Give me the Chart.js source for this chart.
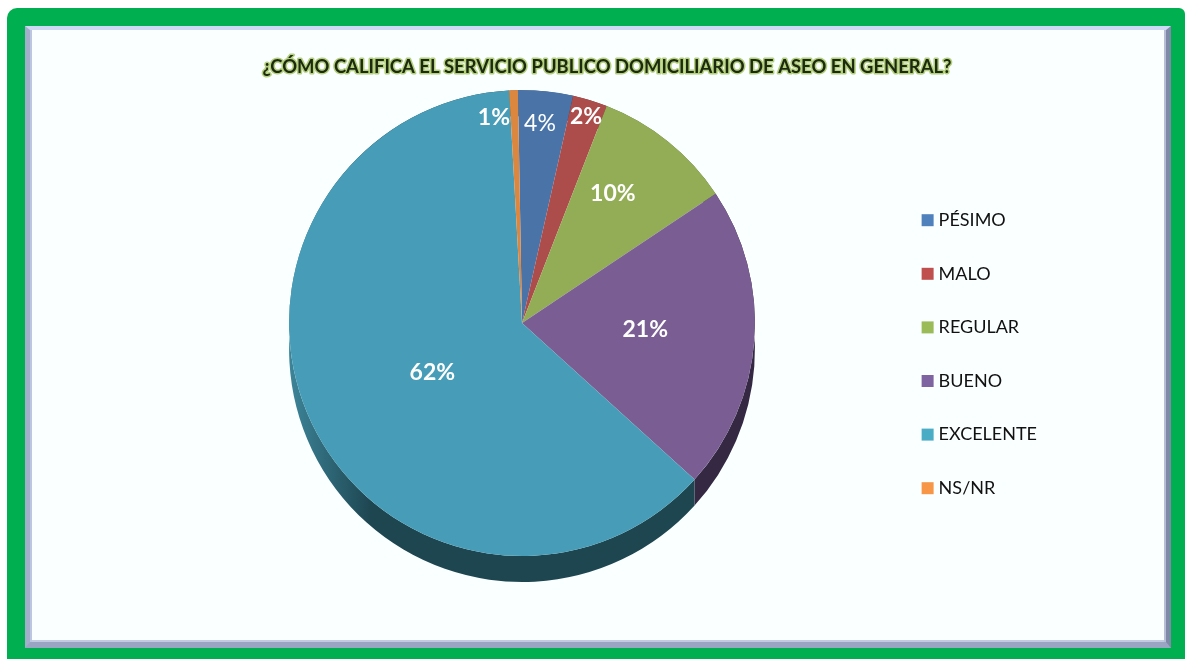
<!DOCTYPE html>
<html>
<head>
<meta charset="utf-8">
<script src="https://cdn.jsdelivr.net/npm/chart.js@4"></script>
<style>
html, body { margin: 0; padding: 0; background: #fff; overflow: hidden; }
#frame { position: absolute; left: 7px; top: 8px; width: 1178px; height: 651px; background: #00B050; border-radius: 10px 6px 0 0; }
#panel { position: absolute; left: 25px; top: 26px; width: 1136px; height: 612px; background: #FAFFFF;
    border-style: solid; border-width: 4px 5px 6px 5px; border-color: #CDD9F4 #7F8AA8 #9AA5C4 #A3AECB;
    box-shadow: inset -2px 0 #B7BFD6, inset 2px 0 #BCC6E0, inset 0 -2px #C3CBE2; }
#chartBox { position: absolute; left: 44px; top: 26px; width: 1126px; height: 620px; }
</style>
</head>
<body>
<div id="frame"></div>
<div id="panel"></div>
<div id="chartBox"><canvas id="myChart"></canvas></div>
<script>
var titleText = '¿CÓMO CALIFICA EL SERVICIO PUBLICO DOMICILIARIO DE ASEO EN GENERAL?';
var categories = ['PÉSIMO', 'MALO', 'REGULAR', 'BUENO', 'EXCELENTE', 'NS/NR'];
var values = [3.8, 2.4, 9.7, 21.1, 62.4, 0.6];
var sliceColors = ['#4A74A8', '#AC4D4B', '#93AD56', '#7A5E93', '#479DB7', '#DC8740'];
var legendColors = ['#4F81BD', '#C0504D', '#9BBB59', '#8064A2', '#4BACC6', '#F79646'];
var sideColors = ['#2B4463', '#652D2C', '#566633', '#342843', '#1E4651', '#82501F'];
var sideEdgeColor = '#3D8599';
// how far out each percent label sits (fraction of radius) and its turn away from the slice middle
var labelRadius = [0.86, 0.93, 0.68, 0.53, 0.44, 0.89];
var labelTurn = [-0.7, 0.2, -3.8, -1, -3.5, -5.7];
var labelBold = [false, true, true, true, true, true];
var depth = 26;
var titleFont = 18.45;

var sidePlugin = {
    id: 'sidePlugin',
    beforeDatasetsDraw: function(chart){
        var ctx = chart.ctx;
        chart.getDatasetMeta(0).data.forEach(function(arc, i){
            var R = arc.outerRadius;
            var grad = ctx.createLinearGradient(arc.x - R, 0, arc.x - R * 0.65, 0);
            // only the big slice is lit on its left side
            grad.addColorStop(0, i == 4 ? sideEdgeColor : sideColors[i]);
            grad.addColorStop(1, sideColors[i]);
            ctx.save();
            ctx.beginPath();
            ctx.arc(arc.x, arc.y, R, arc.startAngle, arc.endAngle);
            ctx.arc(arc.x, arc.y + depth, R, arc.endAngle, arc.startAngle, true);
            ctx.closePath();
            ctx.fillStyle = grad;
            ctx.fill();
            ctx.restore();
        });
    }
};

var labelPlugin = {
    id: 'labelPlugin',
    afterDatasetsDraw: function(chart){
        var ctx = chart.ctx;
        chart.getDatasetMeta(0).data.forEach(function(arc, i){
            var a = (arc.startAngle + arc.endAngle) / 2 + labelTurn[i] * Math.PI / 180;
            var r = arc.outerRadius * labelRadius[i];
            ctx.save();
            ctx.font = (labelBold[i] ? 'bold ' : '') + '23px Lato';
            ctx.fillStyle = '#fff';
            ctx.textAlign = 'center';
            ctx.textBaseline = 'middle';
            ctx.fillText(Math.round(values[i]) + '%', arc.x + Math.cos(a) * r, arc.y + Math.sin(a) * r);
            ctx.restore();
        });
    }
};

// green halo under the title text, title nudged right of the padded area
var haloPlugin = {
    id: 'haloPlugin',
    afterLayout: function(chart){
        chart.titleBlock.left += 13;
    },
    beforeDraw: function(chart){
        var t = chart.titleBlock, ctx = chart.ctx;
        var pad = t.options.padding;
        ctx.save();
        ctx.font = 'bold ' + titleFont + 'px Lato';
        ctx.textAlign = 'center';
        ctx.textBaseline = 'middle';
        ctx.strokeStyle = '#B4D07C';
        ctx.lineWidth = 3;
        ctx.lineJoin = 'round';
        ctx.strokeText(titleText, (t.left + t.right) / 2, t.top + pad.top + titleFont * 1.2 / 2);
        ctx.restore();
    }
};

new Chart(document.getElementById('myChart'), {
    type: 'pie',
    data: {
        labels: categories,
        datasets: [{ data: values, backgroundColor: sliceColors, borderWidth: 0 }]
    },
    options: {
        responsive: true,
        maintainAspectRatio: false,
        animation: false,
        rotation: -1,
        layout: { padding: { left: 110, right: 123, bottom: 90 } },
        plugins: {
            tooltip: { enabled: false },
            title: {
                display: true,
                text: titleText,
                color: '#1C2A12',
                font: { family: 'Lato', size: titleFont, weight: 'bold' },
                padding: { top: 30, bottom: 12 }
            },
            legend: {
                position: 'right',
                title: { display: true, text: ' ', padding: { top: 56, bottom: 56 } },
                labels: {
                    usePointStyle: true,
                    pointStyleWidth: 4,
                    boxHeight: 4,
                    padding: 35.6,
                    color: '#111',
                    font: { family: 'Lato', size: 18 },
                    // thick stroke round a thin rect gives the 12px swatch and keeps the text close
                    generateLabels: function(chart){
                        return categories.map(function(c, i){
                            return { text: c, fillStyle: legendColors[i], strokeStyle: legendColors[i], lineWidth: 8, pointStyle: 'rect', fontColor: '#111', index: i };
                        });
                    }
                }
            }
        }
    },
    plugins: [haloPlugin, sidePlugin, labelPlugin]
});
</script>
</body>
</html>
